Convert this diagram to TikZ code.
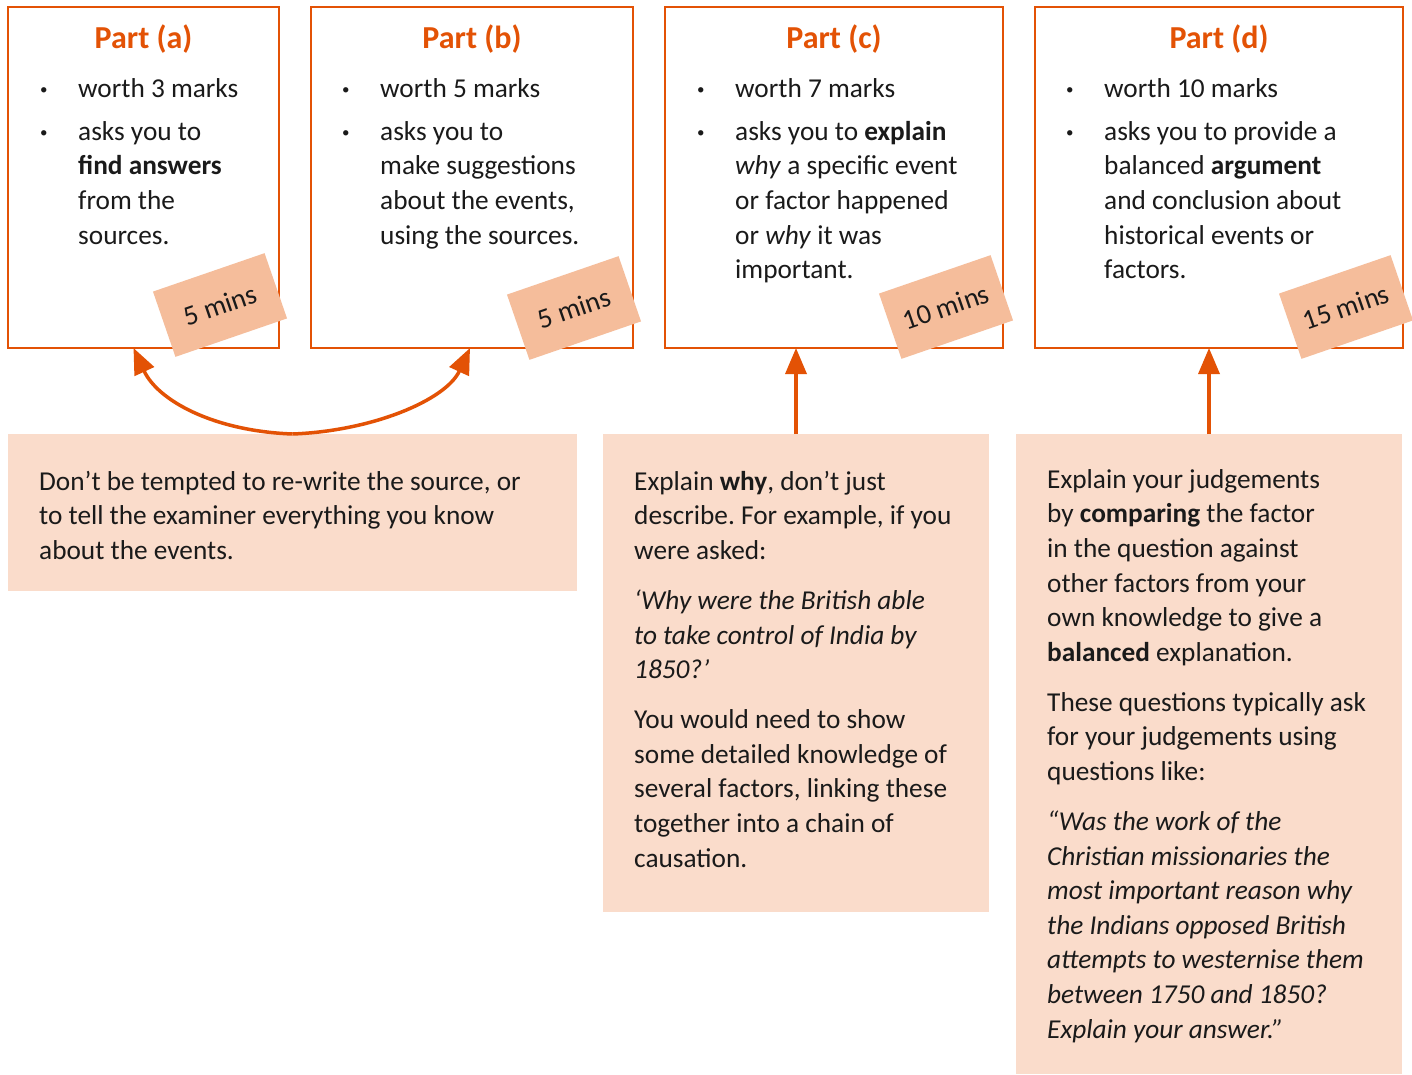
\documentclass[tikz,border=0pt]{standalone}
\usepackage{fontspec}
\setmainfont{Carlito}
\usetikzlibrary{arrows.meta,calc}
\definecolor{orng}{HTML}{E35205}
\definecolor{stick}{HTML}{F5BD9B}
\definecolor{pale}{HTML}{FADCCB}
\definecolor{ink}{HTML}{1A1A1A}
\newcommand{\topstrut}{\rule{0pt}{25pt}}
\newcommand{\bul}{\makebox[41pt][l]{\hspace*{3pt}\raisebox{3pt}{\fontsize{15}{15}\selectfont •}}}
\newcommand{\ind}{\hspace*{41pt}}
\frenchspacing
\begin{document}
\begin{tikzpicture}[x=1pt,y=-1pt,
 partbox/.style={draw=orng,line width=2.5pt,anchor=north west,inner sep=0,outer sep=0,fill=white},
 notebox/.style={fill=pale,anchor=north west,inner sep=0,outer sep=0},
 titletext/.style={anchor=base,text=orng,font=\fontsize{32}{38}\selectfont\bfseries,inner sep=0},
 bodytext/.style={anchor=north west,align=left,inner sep=0,text=ink,font=\fontsize{27.3}{34.6}\selectfont},
 sticker/.style={fill=stick,rotate=19,minimum width=118pt,minimum height=69pt,inner sep=0,text=ink,font=\fontsize{28}{34.6}\selectfont},
 arr/.style={draw=orng,line width=3.5pt,-{Triangle[length=26pt,width=21pt]}}]
\fill[white] (0,0) rectangle (1412,1074);
\useasboundingbox (0,0) rectangle (1412,1074);

% part boxes
\node[partbox,minimum width=271pt,minimum height=341pt] (pa) at (8,7) {};
\node[partbox,minimum width=322pt,minimum height=341pt] (pb) at (311,7) {};
\node[partbox,minimum width=338pt,minimum height=341pt] (pc) at (665,7) {};
\node[partbox,minimum width=368pt,minimum height=341pt] (pd) at (1035,7) {};

% note boxes
\node[notebox,minimum width=569pt,minimum height=157pt] (b1) at (8,434) {};
\node[notebox,minimum width=386pt,minimum height=478pt] (b2) at (603,434) {};
\node[notebox,minimum width=386pt,minimum height=640pt] (b3) at (1016,434) {};

% titles
\node[titletext] (ta) at (143.5,48) {Part (a)};
\node[titletext] (tb) at (472,48) {Part (b)};
\node[titletext] (tc) at (834,48) {Part (c)};
\node[titletext] (td) at (1219,48) {Part (d)};

% bullet texts
\node[bodytext] (xa) at (37,72) {\topstrut\bul worth 3 marks\\[8.4pt]\bul asks you to\\ \ind\textbf{find answers}\\ \ind from the\\ \ind sources.};
\node[bodytext] (xb) at (339,72) {\topstrut\bul worth 5 marks\\[8.4pt]\bul asks you to\\ \ind make suggestions\\ \ind about the events,\\ \ind using the sources.};
\node[bodytext] (xc) at (694,72) {\topstrut\bul worth 7 marks\\[8.4pt]\bul asks you to \textbf{explain}\\ \ind\textit{why} a specific event\\ \ind or factor happened\\ \ind or \textit{why} it was\\ \ind important.};
\node[bodytext] (xd) at (1063,72) {\topstrut\bul worth 10 marks\\[8.4pt]\bul asks you to provide a\\ \ind balanced \textbf{argument}\\ \ind and conclusion about\\ \ind historical events or\\ \ind factors.};

% stickers
\node[sticker] (sa) at (220,305) {5 mins};
\node[sticker] (sb) at (574,308) {5 mins};
\node[sticker] (sc) at (946,307) {10 mins};
\node[sticker] (sd) at (1346,307) {15 mins};

% note texts
\node[bodytext] (n1) at (39,465) {\topstrut Don't be tempted to re-write the source, or\\to tell the examiner everything you know\\about the events.};
\node[bodytext] (n2) at (634,465) {\topstrut Explain \textbf{why}, don't just\\describe. For example, if you\\were asked:\\[15.4pt]\textit{‘Why were the British able}\\\textit{to take control of India by}\\\textit{1850?’}\\[15.4pt]You would need to show\\some detailed knowledge of\\several factors, linking these\\together into a chain of\\causation.};
\node[bodytext] (n3) at (1047,463) {\topstrut Explain your judgements\\by \textbf{comparing} the factor\\in the question against\\other factors from your\\own knowledge to give a\\\textbf{balanced} explanation.\\[15.4pt]These questions typically ask\\for your judgements using\\questions like:\\[15.4pt]\textit{“Was the work of the}\\\textit{Christian missionaries the}\\\textit{most important reason why}\\\textit{the Indians opposed British}\\\textit{attempts to westernise them}\\\textit{between 1750 and 1850?}\\\textit{Explain your answer.”}};

% connectors
\draw[arr] (b1.north) .. controls +(-80,-3) and +(24,52) .. ([xshift=-10pt]pa.south);
\draw[arr] (b1.north) .. controls +(80,-3) and +(-24,52) .. ([xshift=-2pt]pb.south);
\draw[arr] (b2.north) -- (b2.north |- pc.south);
\draw[arr] (b3.north) -- (b3.north |- pd.south);
\end{tikzpicture}
\end{document}
